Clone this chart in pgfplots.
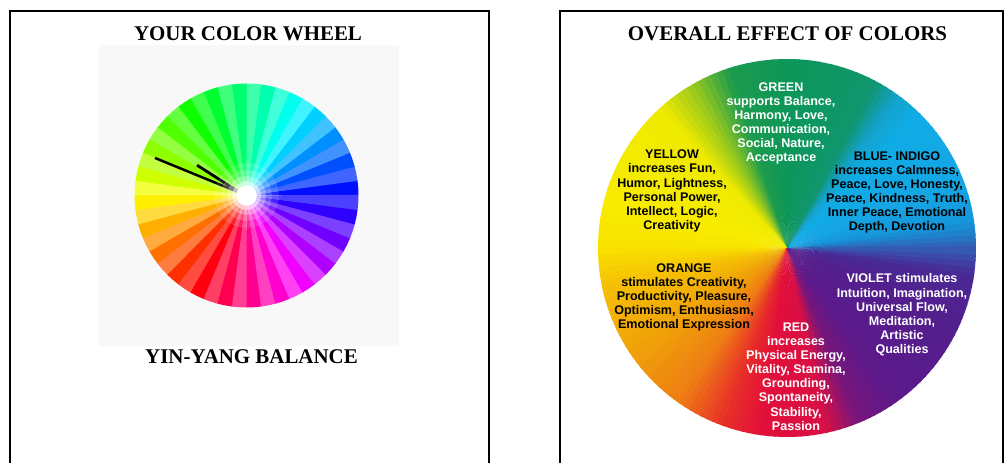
\documentclass[border=0pt]{standalone}
\PassOptionsToPackage{rgb}{xcolor}
\usepackage{pgfplots}
\pgfplotsset{compat=1.18}
\usepgfplotslibrary{polar}
\usepackage{fontspec}
\setmainfont{Liberation Serif}
\newfontfamily\arial{Liberation Sans}
\definecolor{graybg}{RGB}{248,248,248}
\definecolor{k0}{RGB}{50,95,180}
\definecolor{k1}{RGB}{20,150,218}
\definecolor{k2}{RGB}{22,165,228}
\definecolor{k3}{RGB}{15,172,230}
\definecolor{k4}{RGB}{20,162,205}
\definecolor{k5}{RGB}{16,150,110}
\definecolor{k6}{RGB}{12,150,88}
\definecolor{k7}{RGB}{28,155,78}
\definecolor{k8}{RGB}{150,200,30}
\definecolor{k9}{RGB}{238,234,0}
\definecolor{k10}{RGB}{248,236,0}
\definecolor{k11}{RGB}{248,226,0}
\definecolor{k12}{RGB}{245,192,5}
\definecolor{k13}{RGB}{240,160,8}
\definecolor{k14}{RGB}{238,125,20}
\definecolor{k15}{RGB}{232,48,40}
\definecolor{k16}{RGB}{226,15,58}
\definecolor{k17}{RGB}{218,15,68}
\definecolor{k18}{RGB}{120,22,122}
\definecolor{k19}{RGB}{92,25,138}
\definecolor{k20}{RGB}{82,32,142}
\definecolor{k21}{RGB}{72,42,150}
\begin{document}
\begin{tikzpicture}
\useasboundingbox (0,0) rectangle (1006bp,463bp);
\clip (0,0) rectangle (1006bp,463bp);
\fill[white] (0,0) rectangle (1006bp,463bp);
\draw[line width=2bp] (10bp,-5bp) -- (10bp,452bp) -- (489bp,452bp) -- (489bp,-5bp);
\draw[line width=2bp] (560bp,-5bp) -- (560bp,452bp) -- (1003bp,452bp) -- (1003bp,-5bp);
\fill[graybg] (99bp,117bp) rectangle (399bp,418bp);

% ---------------- left wheel ----------------
\begin{polaraxis}[at={(246.5bp,267.5bp)}, anchor=center,
  width=224bp, height=224bp, scale only axis, hide axis,
  xmin=0, xmax=360, ymin=0, ymax=112, clip=false]
\foreach \i in {0,...,47}{
  \pgfmathsetmacro\aa{7.5*\i}
  \pgfmathsetmacro\ab{7.5*\i+7.9}
  \pgfmathsetmacro\am{7.5*\i+3.75}
  \pgfmathsetmacro\hh{mod(600-\am,360)}
  \pgfmathsetmacro\ss{ifthenelse(mod(\i,2)==0,1,0.75)}
  \definecolor{tmpc}{Hsb}{\hh,\ss,1}
  \xglobal\colorlet{lw\i}[rgb]{tmpc}
  \edef\tmp{\noexpand\addplot[fill=lw\i, draw=none] coordinates {(\aa,0) (\aa,112) (\am,112) (\ab,112)} -- cycle;}
  \tmp
}
\addplot[only marks, mark=*, mark size=32bp, white, draw=none, opacity=0.12] coordinates {(0,0)};
\addplot[only marks, mark=*, mark size=25bp, white, draw=none, opacity=0.18] coordinates {(0,0)};
\addplot[only marks, mark=*, mark size=19bp, white, draw=none, opacity=0.3] coordinates {(0,0)};
\addplot[only marks, mark=*, mark size=14bp, white, draw=none, opacity=0.5] coordinates {(0,0)};
\addplot[only marks, mark=*, mark size=10bp, white, draw=none] coordinates {(0,0)};
\addplot[black, line width=2.5bp] coordinates {(0,0) (157.7,99)};
\addplot[black, line width=2.8bp] coordinates {(158,6) (148.5,58)};
\end{polaraxis}

% ---------------- right wheel ----------------
\begin{polaraxis}[at={(787bp,215bp)}, anchor=center,
  width=378bp, height=378bp, scale only axis, hide axis,
  xmin=0, xmax=360, ymin=0, ymax=189, clip=false]
\foreach \sa/\sb/\ca/\cb in {0/8/k0/k1, 8/20/k1/k2, 20/45/k2/k3, 45/54/k3/k4, 54/62/k4/k5,
  62/90/k5/k6, 90/108/k6/k7, 108/120/k7/k8, 120/132/k8/k9, 132/165/k9/k10,
  165/180/k10/k11, 180/192/k11/k12, 192/215/k12/k13, 215/235/k13/k14,
  235/250/k14/k15, 250/262/k15/k16, 262/282/k16/k17, 282/292/k17/k18,
  292/305/k18/k19, 305/340/k19/k20, 340/352/k20/k21, 352/360/k21/k0}{
  \pgfmathtruncatemacro\ns{max(1,round((\sb-\sa)/2))}
  \pgfmathtruncatemacro\nm{\ns-1}
  \foreach \i in {0,...,\nm}{
    \pgfmathsetmacro\aa{\sa+(\sb-\sa)*\i/\ns}
    \pgfmathsetmacro\ab{\sa+(\sb-\sa)*(\i+1)/\ns+0.6}
    \pgfmathsetmacro\am{(\aa+\ab)/2}
    \pgfmathtruncatemacro\pc{100*(1-(\i+0.5)/\ns)}
    \edef\tmp{\noexpand\addplot[fill=\ca!\pc!\cb, draw=none] coordinates {(\aa,0) (\aa,189) (\am,189) (\ab,189)} -- cycle;}
    \tmp
  }
}
\end{polaraxis}

% ---------------- texts ----------------
\node[font=\fontsize{21}{24}\selectfont\bfseries] at (248bp,429bp) {YOUR COLOR WHEEL};
\node[font=\fontsize{21}{24}\selectfont\bfseries] at (787.5bp,429bp) {OVERALL EFFECT OF COLORS};
\node[font=\fontsize{21}{24}\selectfont\bfseries] at (251.5bp,106bp) {YIN-YANG BALANCE};

\tikzset{wt/.style={align=center, inner sep=0pt, font=\arial\bfseries\fontsize{12.6}{14.2}\selectfont}}
\node[wt, white] at (781bp,339.5bp) {GREEN\\supports Balance,\\Harmony, Love,\\Communication,\\Social, Nature,\\Acceptance};
\node[wt, black] at (672bp,272bp) {YELLOW\\increases Fun,\\Humor, Lightness,\\Personal Power,\\Intellect, Logic,\\Creativity};
\node[wt, black] at (897bp,270.5bp) {BLUE- INDIGO\\increases Calmness,\\Peace, Love, Honesty,\\Peace, Kindness, Truth,\\Inner Peace, Emotional\\Depth, Devotion};
\node[wt, black] at (684bp,165.5bp) {ORANGE\\stimulates Creativity,\\Productivity, Pleasure,\\Optimism, Enthusiasm,\\Emotional Expression};
\node[wt, white] at (796bp,86.5bp) {RED\\increases\\Physical Energy,\\Vitality, Stamina,\\Grounding,\\Spontaneity,\\Stability,\\Passion};
\node[wt, white] at (902bp,148bp) {VIOLET stimulates\\Intuition, Imagination,\\Universal Flow,\\Meditation,\\Artistic\\Qualities};
\end{tikzpicture}
\end{document}
